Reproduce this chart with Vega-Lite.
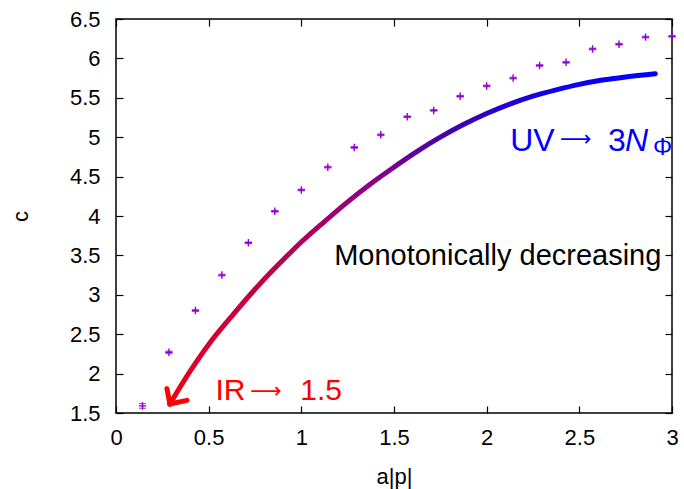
{
  "$schema": "https://vega.github.io/schema/vega-lite/v6.json",
  "width": 556,
  "height": 394,
  "autosize": {"type": "none"},
  "padding": {"left": 116, "top": 19, "right": 12, "bottom": 76},
  "background": "#ffffff",
  "config": {
    "view": {"stroke": "#000000", "strokeWidth": 1.5},
    "font": "Liberation Sans",
    "axis": {
      "grid": false,
      "domain": false,
      "tickColor": "#000000",
      "tickWidth": 1.2,
      "tickSize": -7,
      "labelFlush": false,
      "labelFont": "Liberation Sans",
      "labelFontSize": 22,
      "labelColor": "#000000",
      "titleFont": "Liberation Sans",
      "titleFontSize": 22,
      "titleFontWeight": "normal",
      "titleColor": "#000000"
    }
  },
  "datasets": {
    "pts": [
      {"x": 0.1429, "y": 1.59, "lo": 1.56, "hi": 1.62},
      {"x": 0.2857, "y": 2.27, "lo": 2.255, "hi": 2.285},
      {"x": 0.4286, "y": 2.80, "lo": 2.79, "hi": 2.81},
      {"x": 0.5714, "y": 3.25, "lo": 3.24, "hi": 3.26},
      {"x": 0.7143, "y": 3.66, "lo": 3.65, "hi": 3.67},
      {"x": 0.8571, "y": 4.06, "lo": 4.05, "hi": 4.07},
      {"x": 1.0, "y": 4.33, "lo": 4.32, "hi": 4.34},
      {"x": 1.1429, "y": 4.62, "lo": 4.61, "hi": 4.63},
      {"x": 1.2857, "y": 4.87, "lo": 4.86, "hi": 4.88},
      {"x": 1.4286, "y": 5.03, "lo": 5.02, "hi": 5.04},
      {"x": 1.5714, "y": 5.26, "lo": 5.25, "hi": 5.27},
      {"x": 1.7143, "y": 5.34, "lo": 5.33, "hi": 5.35},
      {"x": 1.8571, "y": 5.52, "lo": 5.51, "hi": 5.53},
      {"x": 2.0, "y": 5.65, "lo": 5.64, "hi": 5.66},
      {"x": 2.1429, "y": 5.75, "lo": 5.74, "hi": 5.76},
      {"x": 2.2857, "y": 5.91, "lo": 5.90, "hi": 5.92},
      {"x": 2.4286, "y": 5.95, "lo": 5.94, "hi": 5.96},
      {"x": 2.5714, "y": 6.12, "lo": 6.11, "hi": 6.13},
      {"x": 2.7143, "y": 6.18, "lo": 6.17, "hi": 6.19},
      {"x": 2.8571, "y": 6.27, "lo": 6.26, "hi": 6.28},
      {"x": 3.0, "y": 6.28, "lo": 6.27, "hi": 6.29}
    ],
    "curve": [
      {"x": 0.29, "y": 1.61},
      {"x": 0.40, "y": 2.03},
      {"x": 0.50, "y": 2.37},
      {"x": 0.625, "y": 2.73},
      {"x": 0.75, "y": 3.07},
      {"x": 0.875, "y": 3.38},
      {"x": 1.0, "y": 3.67},
      {"x": 1.125, "y": 3.93},
      {"x": 1.25, "y": 4.18},
      {"x": 1.375, "y": 4.41},
      {"x": 1.5, "y": 4.62},
      {"x": 1.625, "y": 4.82},
      {"x": 1.75, "y": 5.00},
      {"x": 1.875, "y": 5.16},
      {"x": 2.0, "y": 5.30},
      {"x": 2.125, "y": 5.42},
      {"x": 2.25, "y": 5.52},
      {"x": 2.375, "y": 5.60},
      {"x": 2.5, "y": 5.67},
      {"x": 2.625, "y": 5.725},
      {"x": 2.75, "y": 5.765},
      {"x": 2.91, "y": 5.805}
    ],
    "head": [
      {"x": 0.275, "y": 1.808, "x2": 0.291, "y2": 1.614},
      {"x": 0.291, "y": 1.614, "x2": 0.383, "y2": 1.66}
    ]
  },
  "layer": [
    {
      "data": {"name": "curve"},
      "mark": {
        "type": "line",
        "interpolate": "monotone",
        "strokeWidth": 5,
        "strokeCap": "round",
        "stroke": {
          "gradient": "linear",
          "x1": 0, "y1": 0, "x2": 1, "y2": 0,
          "stops": [
            {"offset": 0, "color": "#f00010"},
            {"offset": 0.06, "color": "#d80030"},
            {"offset": 0.15, "color": "#c80040"},
            {"offset": 0.27, "color": "#b00060"},
            {"offset": 0.42, "color": "#880088"},
            {"offset": 0.5, "color": "#640098"},
            {"offset": 0.58, "color": "#4000b0"},
            {"offset": 0.68, "color": "#2800d0"},
            {"offset": 0.77, "color": "#1000e8"},
            {"offset": 1, "color": "#0000ff"}
          ]
        }
      },
      "encoding": {
        "x": {"field": "x", "type": "quantitative", "scale": {"domain": [0, 3], "nice": false, "zero": false},
              "axis": {"orient": "bottom", "title": "a|p|", "values": [0, 0.5, 1, 1.5, 2, 2.5, 3], "format": "~g", "labelPadding": 21, "titlePadding": 18}},
        "y": {"field": "y", "type": "quantitative", "scale": {"domain": [1.5, 6.5], "nice": false, "zero": false},
              "axis": {"orient": "left", "title": "c", "values": [1.5, 2, 2.5, 3, 3.5, 4, 4.5, 5, 5.5, 6, 6.5], "format": "~g", "labelPadding": 23, "titlePadding": 37}}
      }
    },
    {
      "data": {"name": "head"},
      "mark": {"type": "rule", "color": "#ff0000", "strokeWidth": 5, "strokeCap": "round"},
      "encoding": {
        "x": {"field": "x", "type": "quantitative", "axis": null},
        "y": {"field": "y", "type": "quantitative", "axis": null},
        "x2": {"field": "x2"},
        "y2": {"field": "y2"}
      }
    },
    {
      "data": {"name": "pts"},
      "mark": {"type": "errorbar", "ticks": {"size": 7, "thickness": 1.2}, "color": "#9400d3", "thickness": 1.2},
      "encoding": {
        "x": {"field": "x", "type": "quantitative", "axis": null},
        "y": {"field": "lo", "type": "quantitative", "axis": null},
        "y2": {"field": "hi"}
      }
    },
    {
      "data": {"name": "pts"},
      "mark": {"type": "point", "shape": "M-1,0L1,0M0,-1L0,1", "size": 56, "filled": false, "stroke": "#9400d3", "strokeWidth": 1.4, "opacity": 1},
      "encoding": {
        "x": {"field": "x", "type": "quantitative", "axis": {"orient": "top", "labels": false, "title": null, "values": [0, 0.5, 1, 1.5, 2, 2.5, 3]}},
        "y": {"field": "y", "type": "quantitative", "axis": {"orient": "right", "labels": false, "title": null, "values": [1.5, 2, 2.5, 3, 3.5, 4, 4.5, 5, 5.5, 6, 6.5]}}
      }
    },
    {
      "data": {"values": [{"x": 1.177, "y": 3.373, "label": "Monotonically decreasing"}]},
      "mark": {"type": "text", "align": "left", "baseline": "alphabetic", "fontSize": 29, "color": "#000000", "font": "Liberation Sans"},
      "encoding": {
        "x": {"field": "x", "type": "quantitative", "axis": null},
        "y": {"field": "y", "type": "quantitative", "axis": null},
        "text": {"field": "label"}
      }
    },
    {
      "data": {"values": [{"x": 0.537, "y": 1.66, "label": "IR"}, {"x": 0.994, "y": 1.66, "label": "1.5"}]},
      "mark": {"type": "text", "align": "left", "baseline": "alphabetic", "fontSize": 30, "color": "#ff0000", "font": "Liberation Sans"},
      "encoding": {
        "x": {"field": "x", "type": "quantitative", "axis": null},
        "y": {"field": "y", "type": "quantitative", "axis": null},
        "text": {"field": "label"}
      }
    },
    {
      "data": {"values": [{"x": 0.724, "y": 1.694, "label": "⟶"}]},
      "mark": {"type": "text", "align": "left", "baseline": "alphabetic", "fontSize": 22, "color": "#ff0000", "font": "DejaVu Sans"},
      "encoding": {
        "x": {"field": "x", "type": "quantitative", "axis": null},
        "y": {"field": "y", "type": "quantitative", "axis": null},
        "text": {"field": "label"}
      }
    },
    {
      "data": {"values": [{"x": 2.127, "y": 4.824, "label": "UV"}, {"x": 2.655, "y": 4.824, "label": "3"}]},
      "mark": {"type": "text", "align": "left", "baseline": "alphabetic", "fontSize": 32, "color": "#0000ff", "font": "Liberation Sans"},
      "encoding": {
        "x": {"field": "x", "type": "quantitative", "axis": null},
        "y": {"field": "y", "type": "quantitative", "axis": null},
        "text": {"field": "label"}
      }
    },
    {
      "data": {"values": [{"x": 2.396, "y": 4.892, "label": "⟶"}]},
      "mark": {"type": "text", "align": "left", "baseline": "alphabetic", "fontSize": 22, "color": "#0000ff", "font": "DejaVu Sans"},
      "encoding": {
        "x": {"field": "x", "type": "quantitative", "axis": null},
        "y": {"field": "y", "type": "quantitative", "axis": null},
        "text": {"field": "label"}
      }
    },
    {
      "data": {"values": [{"x": 2.747, "y": 4.824, "label": "N"}]},
      "mark": {"type": "text", "align": "left", "baseline": "alphabetic", "fontSize": 32, "fontStyle": "italic", "color": "#0000ff", "font": "Liberation Sans"},
      "encoding": {
        "x": {"field": "x", "type": "quantitative", "axis": null},
        "y": {"field": "y", "type": "quantitative", "axis": null},
        "text": {"field": "label"}
      }
    },
    {
      "data": {"values": [{"x": 2.898, "y": 4.769, "label": "Φ"}]},
      "mark": {"type": "text", "align": "left", "baseline": "alphabetic", "fontSize": 24, "color": "#0000ff", "font": "Liberation Sans"},
      "encoding": {
        "x": {"field": "x", "type": "quantitative", "axis": null},
        "y": {"field": "y", "type": "quantitative", "axis": null},
        "text": {"field": "label"}
      }
    }
  ],
  "resolve": {"axis": {"x": "independent", "y": "independent"}}
}
